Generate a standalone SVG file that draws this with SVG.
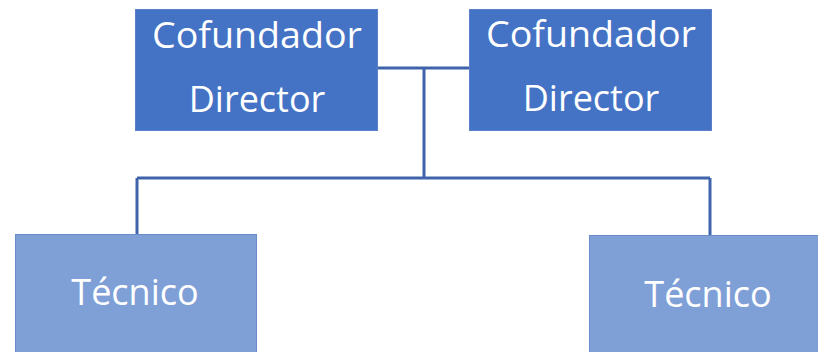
<svg xmlns="http://www.w3.org/2000/svg" width="818" height="352" viewBox="0 0 818 352">
<style>
.top{fill:#4472C4;stroke:#5B80C8;stroke-width:1}
.low{fill:#7F9FD7;stroke:#6A8CCB;stroke-width:1}
.t{fill:#FFFFFF;font-family:"Open Sans","Noto Sans",sans-serif;font-size:36px;text-anchor:middle}
.c{fill:none;stroke:#3F64AC;stroke-width:3}
</style>
<rect width="818" height="352" fill="#FFFFFF"/>
<g id="connectors">
<path class="c" d="M377 68 H469"/>
<path class="c" d="M424 68 V178"/>
<path class="c" d="M137 178 H710"/>
<path class="c" d="M137 178 V234"/>
<path class="c" d="M710 178 V235"/>
</g>
<g id="cofundador1">
<rect class="top" x="135.5" y="9.5" width="242" height="121"/>
<text class="t" x="257" y="48" textLength="210" lengthAdjust="spacingAndGlyphs">Cofundador</text>
<text class="t" x="257" y="112">Director</text>
</g>
<g id="cofundador2">
<rect class="top" x="469.5" y="9.5" width="242" height="121"/>
<text class="t" x="591" y="47" textLength="210" lengthAdjust="spacingAndGlyphs">Cofundador</text>
<text class="t" x="591" y="111">Director</text>
</g>
<g id="tecnico1">
<rect class="low" x="15.5" y="234.5" width="241" height="130"/>
<text class="t" x="135" y="305">Técnico</text>
</g>
<g id="tecnico2">
<rect class="low" x="589.5" y="235.5" width="241" height="130"/>
<text class="t" x="708" y="307">Técnico</text>
</g>
</svg>
